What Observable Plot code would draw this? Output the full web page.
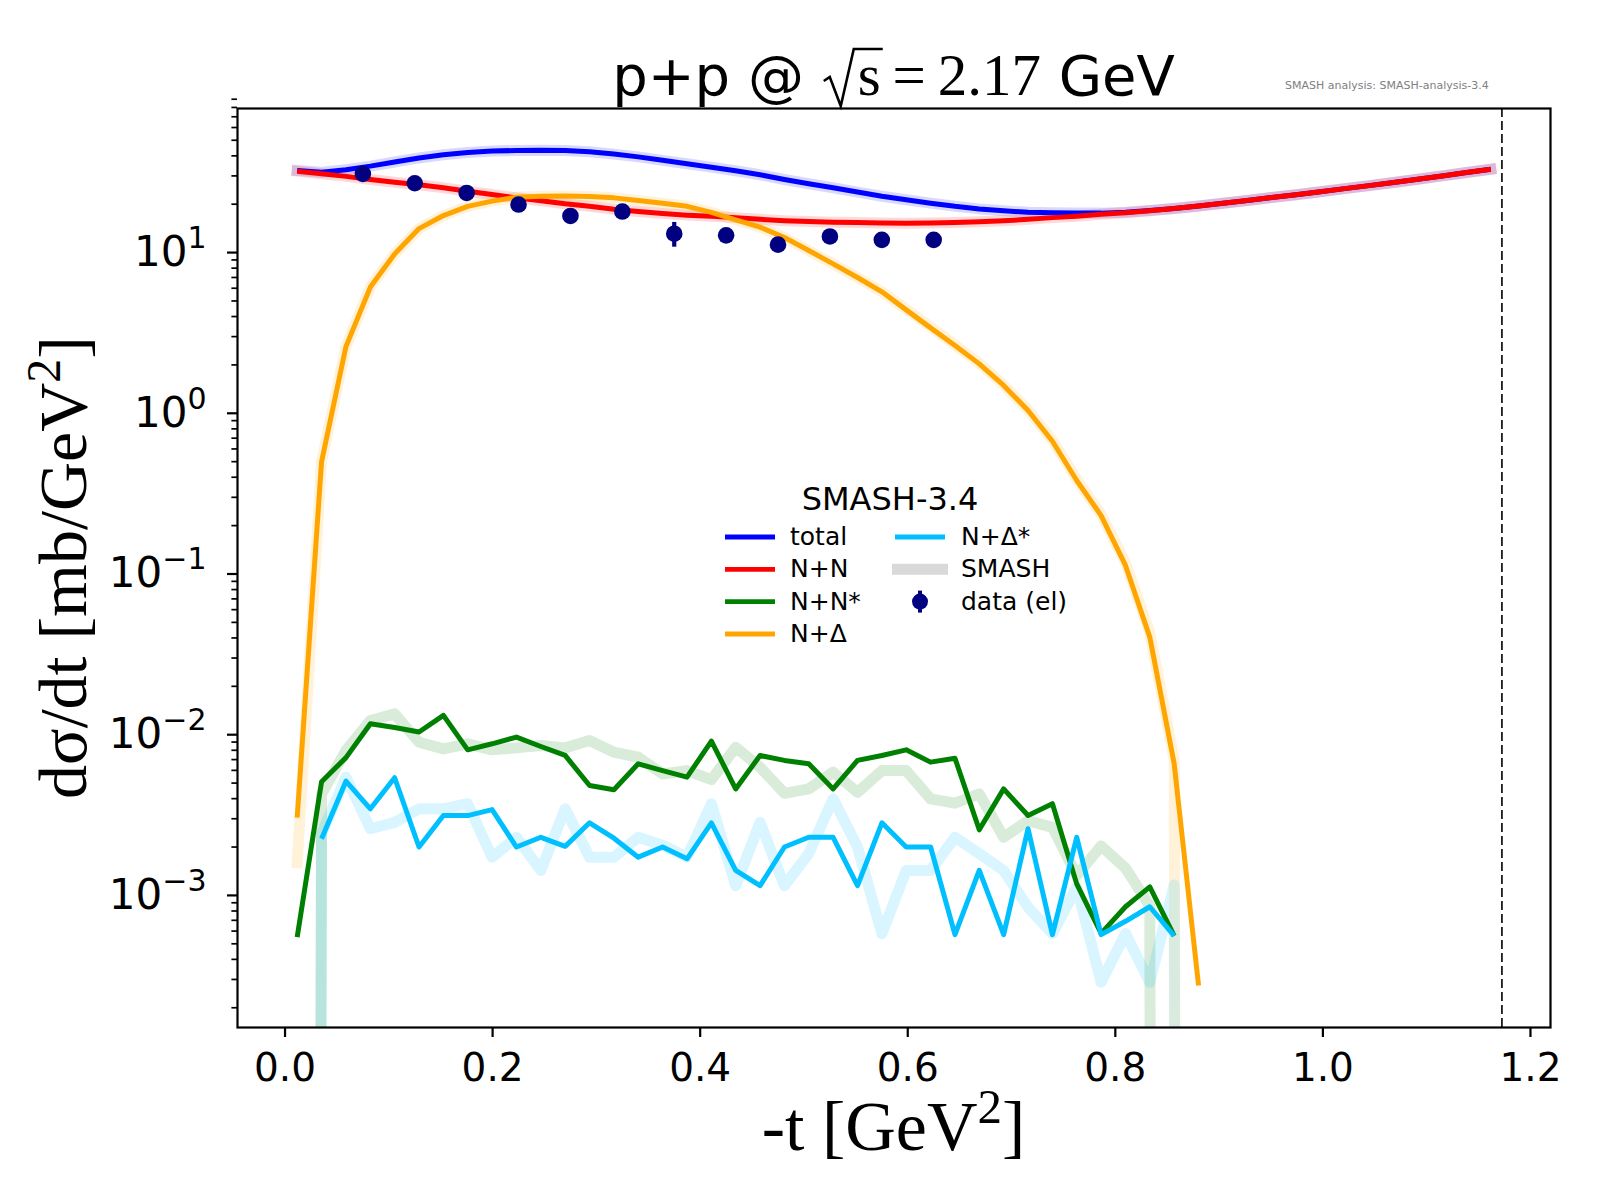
<!DOCTYPE html>
<html><head><meta charset="utf-8">
<script src="https://cdn.jsdelivr.net/npm/d3@7"></script>
<script src="https://cdn.jsdelivr.net/npm/@observablehq/plot@0.6"></script>
<style>
body{margin:0;background:#fff;}
#wrap{position:relative;width:1600px;height:1200px;}
#wrap svg{position:absolute;left:0;top:0;}
</style></head><body><div id="wrap"></div>
<script>
// ---- data ----
const tBins = [0.0117,0.0352,0.0587,0.0822,0.1056,0.1291,0.1526,0.1760,0.1995,0.2230,0.2465,0.2699,0.2934,0.3169,0.3403,0.3638,0.3873,0.4108,0.4342,0.4577,0.4812,0.5046,0.5281,0.5516,0.5751,0.5985,0.6220,0.6455,0.6689,0.6924,0.7159,0.7394,0.7628,0.7863,0.8098,0.8332,0.8567,0.8802,0.9037,0.9271,0.9506,0.9741,0.9975,1.0210,1.0445,1.0680,1.0914,1.1149,1.1384,1.1618];
const tMax = 1.1725;

const total = [32.4,31.6,32.8,34.5,36.6,38.8,40.6,41.9,42.8,43.2,43.4,43.2,42.4,41.0,39.4,37.5,35.7,34.0,32.3,30.5,28.5,26.8,25.3,23.8,22.4,21.3,20.3,19.4,18.7,18.2,17.8,17.7,17.6,17.6,17.8,18.25,18.8,19.5,20.3,21.1,22.0,22.9,23.9,25.0,26.1,27.3,28.6,30.0,31.5,33.0];
const nn = [32.1,30.9,29.8,28.5,27.4,26.4,25.3,24.1,23.0,21.9,21.0,20.1,19.4,18.6,18.0,17.5,17.1,16.8,16.5,16.1,15.8,15.6,15.45,15.4,15.3,15.2,15.3,15.4,15.55,15.8,16.1,16.5,16.85,17.3,17.7,18.2,18.8,19.5,20.3,21.1,22.0,22.9,23.9,25.0,26.1,27.3,28.6,30.0,31.5,33.0];
const nnStar = [5.5e-4,5.1e-3,7.2e-3,0.0117,0.0111,0.0104,0.0132,0.00805,0.00878,0.00966,0.00845,0.00743,0.00483,0.00454,0.00659,0.00598,0.00544,0.00912,0.0046,0.00743,0.00692,0.00659,0.0046,0.00692,0.00743,0.00805,0.00675,0.00714,0.00256,0.0046,0.00314,0.00372,0.00118,5.8e-4,8.5e-4,0.00113,5.6e-4];
const nDelta = [3.05e-3,0.5,2.6,6.1,9.8,14.1,17.0,19.4,20.9,22.1,22.4,22.5,22.3,21.9,21.1,20.3,19.4,17.8,16.0,14.4,12.4,10.3,8.5,7.0,5.7,4.4,3.4,2.64,2.03,1.49,1.04,0.67,0.382,0.231,0.113,0.0405,6.6e-3,2.75e-4];
const nDeltaStar = [0,2.25e-3,5.14e-3,3.46e-3,5.4e-3,2.0e-3,3.14e-3,3.14e-3,3.42e-3,2.0e-3,2.3e-3,2.02e-3,2.83e-3,2.27e-3,1.73e-3,2.0e-3,1.69e-3,2.83e-3,1.43e-3,1.15e-3,2.0e-3,2.3e-3,2.3e-3,1.15e-3,2.83e-3,2.0e-3,2.0e-3,5.7e-4,1.43e-3,5.7e-4,2.6e-3,5.7e-4,2.3e-3,5.7e-4,6.9e-4,8.5e-4,5.6e-4];

// SMASH reference (thick faint lines)
const refTotal = total;
const refNN = nn;
const refNNStar = [0,4.28e-3,7.98e-3,0.01225,0.01348,8.97e-3,8.16e-3,8.77e-3,8.05e-3,8.28e-3,8.57e-3,8.28e-3,9.2e-3,7.78e-3,7.24e-3,5.7e-3,5.98e-3,5.25e-3,8.35e-3,6.28e-3,4.32e-3,4.6e-3,5.85e-3,4.38e-3,5.98e-3,5.98e-3,3.99e-3,3.75e-3,4.28e-3,2.3e-3,2.92e-3,2.65e-3,1.33e-3,2.03e-3,1.48e-3,8.6e-4,0];
const refNDelta = [1.6e-3,0.5,2.6,6.1,9.8,14.1,17.0,19.4,20.9,22.1,22.4,22.5,22.3,21.9,21.1,20.3,19.4,17.8,16.0,14.4,12.4,10.3,8.5,7.0,5.7,4.45,3.45,2.66,2.05,1.5,1.05,0.68,0.39,0.235,0.118,0.043,7.0e-3,0];
const refNDeltaStar = [0,2.42e-3,5.44e-3,2.6e-3,2.85e-3,3.46e-3,3.46e-3,3.72e-3,1.73e-3,2.3e-3,1.43e-3,3.46e-3,1.73e-3,1.73e-3,2.3e-3,2.05e-3,1.73e-3,3.72e-3,1.15e-3,2.85e-3,1.15e-3,1.82e-3,3.99e-3,2.0e-3,5.77e-4,1.43e-3,1.43e-3,2.3e-3,1.82e-3,1.43e-3,8.45e-4,5.77e-4,1.13e-3,2.88e-4,5.8e-4,2.88e-4,1.16e-3,0];

// elastic data
const dataT = [0.075,0.125,0.175,0.225,0.275,0.325,0.375,0.425,0.475,0.525,0.575,0.625];
const dataV = [30.9,27.0,23.5,19.9,16.9,18.0,13.1,12.8,11.2,12.6,12.0,12.0];
const dataErr = [0.6,0.5,0.5,0.4,0.4,0.4,2.3,0.4,0.4,0.4,0.4,0.4];

const xTicks = [0,0.2,0.4,0.6,0.8,1.0,1.2];
const yMajor = [1e-3,1e-2,1e-1,1,10];
const legendCol1 = ["total","N+N","N+N*","N+Δ"];
const legendCol2 = ["N+Δ*","SMASH","data (el)"];

const C = {total:"#0000ff", nn:"#ff0000", nnStar:"#008000", nDelta:"#ffa500", nDeltaStar:"#00bfff", data:"#000080"};

// ---- helpers ----
const rows = vals => vals.map((v,i)=>({t:tBins[i], v}));
const pos = vals => rows(vals).filter(d=>d.v>0);
const FLOOR = 1e-60; // mimic matplotlib clipping of non-positive values on log axes
const refY = d => d.v>0 ? d.v : FLOOR;
const yMinor = [];
for (let e=-4;e<=1;e++) for (let m=2;m<=9;m++) yMinor.push(m*Math.pow(10,e));

const pts = dataT.map((t,i)=>({t, v:dataV[i], lo:dataV[i]-dataErr[i], hi:dataV[i]+dataErr[i]}));

const refW = 11, refO = 0.15, mainW = 5;
const refLine = (vals,c) => Plot.line(rows(vals), {x:"t", y:refY, stroke:c, strokeWidth:refW, strokeOpacity:refO, clip:true, strokeLinejoin:"round", strokeLinecap:"square"});
const mainLine = (vals,c) => Plot.line(pos(vals), {x:"t", y:"v", stroke:c, strokeWidth:mainW, clip:true, strokeLinejoin:"round", strokeLinecap:"butt"});

const plot = Plot.plot({
  width:1600, height:1200,
  marginLeft:237, marginRight:50, marginTop:108, marginBottom:173,
  style:{fontFamily:"DejaVu Sans", fontSize:"39px", background:"white", color:"black", overflow:"visible"},
  x:{domain:[-0.0458,1.2193], label:null},
  y:{type:"log", domain:[1.507e-4,78.8], label:null},
  marks:[
    refLine(refTotal,C.total), refLine(refNN,C.nn), refLine(refNNStar,C.nnStar), refLine(refNDelta,C.nDelta), refLine(refNDeltaStar,C.nDeltaStar),
    mainLine(total,C.total), mainLine(nn,C.nn), mainLine(nnStar,C.nnStar), mainLine(nDelta,C.nDelta), mainLine(nDeltaStar,C.nDeltaStar),
    Plot.ruleX(pts,{x:"t", y1:"lo", y2:"hi", stroke:C.data, strokeWidth:4.2}),
    Plot.dot(pts,{x:"t", y:"v", r:8.3, fill:C.data, stroke:"none"}),
    Plot.ruleX([tMax],{stroke:"black", strokeWidth:1.6, strokeDasharray:"9,4"}),
    Plot.axisX({ticks:xTicks, tickFormat:d3.format(".1f"), tickSize:10, tickPadding:16, strokeWidth:2.2, label:null}),
    Plot.axisY({ticks:yMajor, tickFormat:d=>String(Math.round(Math.log10(d))), tickSize:10, tickPadding:21, fontSize:"42px", strokeWidth:2.2, label:null}),
    Plot.axisY({ticks:yMinor, tickFormat:()=>"", tickSize:5.6, strokeWidth:1.7, label:null}),
    Plot.frame({stroke:"black", strokeWidth:2.2})
  ]
});
document.getElementById("wrap").appendChild(plot);

// y tick labels as 10^n with superscript
plot.querySelectorAll('g[aria-label="y-axis tick label"] text').forEach(t=>{
  const s = t.textContent;
  if (!s) return;
  const e = s.replace("-","−");
  t.textContent = "10";
  const sp = document.createElementNS("http://www.w3.org/2000/svg","tspan");
  sp.setAttribute("dy","-18"); sp.setAttribute("font-size","30px");
  sp.textContent = e;
  t.appendChild(sp);
});

// ---- overlay: title, axis labels, legend ----
const ov = d3.select("#wrap").append("svg").attr("width",1600).attr("height",1200).style("pointer-events","none");
const SERIF = "Liberation Serif", SANS = "DejaVu Sans";
const TB = 95; // title baseline

// title
const title = ov.append("text").attr("x",893.5).attr("y",TB).attr("text-anchor","middle").attr("font-size",56).attr("font-family",SANS);
title.append("tspan").text("p+p @ ");
title.append("tspan").attr("font-family",SERIF).attr("font-size",59).attr("dx",36).text("s");
title.append("tspan").attr("font-family",SERIF).attr("font-size",59).text("\u2009=\u20092.17");
title.append("tspan").text(" GeV");
{
  const tn = title.node();
  const s = tn.getExtentOfChar(6);
  const x0 = s.x, x1 = s.x + s.width + 2;
  const path = `M${x0-34},${TB-14} L${x0-28},${TB-18} L${x0-17},${TB+11} L${x0-4},${TB-46} L${x1},${TB-46}`;
  ov.append("path").attr("d",path).attr("fill","none").attr("stroke","black").attr("stroke-width",2.6).attr("stroke-linejoin","miter");
}
ov.append("text").attr("x",1285).attr("y",89).attr("font-size",11).attr("font-family",SANS).attr("fill","#808080").text("SMASH analysis: SMASH-analysis-3.4");

// x label
const xl = ov.append("text").attr("x",893.5).attr("y",1150).attr("text-anchor","middle").attr("font-family",SERIF).attr("font-size",70);
xl.append("tspan").text("-t [GeV");
xl.append("tspan").attr("font-size",49).attr("dy",-27).text("2");
xl.append("tspan").attr("dy",27).text("]");

// y label
const yl = ov.append("text").attr("transform","translate(86,567.5) rotate(-90)").attr("text-anchor","middle").attr("font-family",SERIF).attr("font-size",68);
yl.append("tspan").text("dσ/dt [mb/GeV");
yl.append("tspan").attr("font-size",48).attr("dy",-26).text("2");
yl.append("tspan").attr("dy",26).text("]");

// legend
const lg = ov.append("g").attr("font-family",SANS);
lg.append("text").attr("x",890).attr("y",510).attr("text-anchor","middle").attr("font-size",32).text("SMASH-3.4");
const base = [545,577.3,609.6,642];
const col1C = [C.total,C.nn,C.nnStar,C.nDelta];
legendCol1.forEach((name,i)=>{
  lg.append("line").attr("x1",725).attr("x2",775).attr("y1",base[i]-8).attr("y2",base[i]-8).attr("stroke",col1C[i]).attr("stroke-width",4.8);
  lg.append("text").attr("x",790).attr("y",base[i]).attr("font-size",25).text(name);
});
legendCol2.forEach((name,i)=>{
  const cy = base[i]-8;
  if (i===0) lg.append("line").attr("x1",895).attr("x2",945).attr("y1",cy).attr("y2",cy).attr("stroke",C.nDeltaStar).attr("stroke-width",4.8);
  if (i===1) lg.append("line").attr("x1",892).attr("x2",948).attr("y1",cy).attr("y2",cy).attr("stroke","#d9d9d9").attr("stroke-width",11);
  if (i===2) {
    lg.append("line").attr("x1",920).attr("x2",920).attr("y1",cy-11).attr("y2",cy+11).attr("stroke",C.data).attr("stroke-width",4);
    lg.append("circle").attr("cx",920).attr("cy",cy).attr("r",8).attr("fill",C.data);
  }
  lg.append("text").attr("x",961).attr("y",base[i]).attr("font-size",25).text(name);
});
</script></body></html>
